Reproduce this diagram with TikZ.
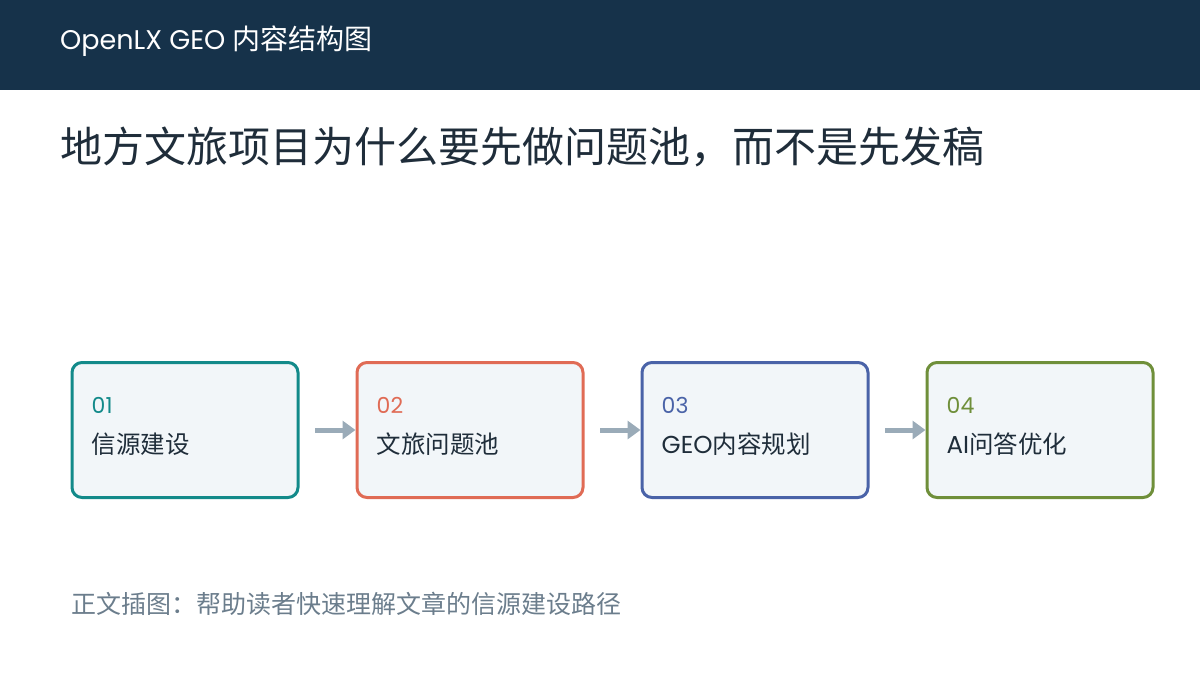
\documentclass[tikz,border=0pt]{standalone}
\usepackage{fontspec}
\setmainfont{Poppins}
\newfontfamily\cjk{Noto Sans CJK SC}
\newfontfamily\lat{Poppins}
\usetikzlibrary{arrows.meta}
\definecolor{hdr}{HTML}{16324A}
\definecolor{ink}{HTML}{1F2D3A}
\definecolor{cteal}{HTML}{138A8A}
\definecolor{corange}{HTML}{E06B55}
\definecolor{cblue}{HTML}{4A63A8}
\definecolor{cgreen}{HTML}{6F8F3A}
\definecolor{boxfill}{HTML}{F2F6F9}
\definecolor{arr}{HTML}{9AABB8}
\definecolor{cap}{HTML}{6B7D8C}
\tikzset{
  stepbox/.style={draw=#1, line width=3pt, rounded corners=10pt, fill=boxfill,
    minimum width=226pt, minimum height=135pt, inner sep=0pt},
  numtext/.style={anchor=west, text=#1, font=\lat\fontsize{22}{24}\selectfont},
  labtext/.style={anchor=west, text=ink, font=\cjk\fontsize{24.5}{27}\selectfont},
  flow/.style={draw=arr, line width=5pt, -{Triangle[length=13pt,width=18pt]}, shorten >=0pt}
}
\begin{document}
\begin{tikzpicture}[x=1pt,y=-1pt]
\useasboundingbox (0,0) rectangle (1200,675);
\fill[hdr] (0,0) rectangle (1200,90);
\node[anchor=west, text=white, inner sep=0pt] (hdrtext) at (60,41)
  {\lat\fontsize{27}{29}\selectfont OpenLX GEO \cjk\fontsize{28}{30}\selectfont 内容结构图};
\node[anchor=west, text=ink, inner sep=0pt] (title) at (60,147)
  {\cjk\fontsize{42}{46}\selectfont 地方文旅项目为什么要先做问题池，而不是先发稿};
\node[stepbox=cteal] (b1) at (185,430) {};
\node[stepbox=corange] (b2) at (470,430) {};
\node[stepbox=cblue] (b3) at (755,430) {};
\node[stepbox=cgreen] (b4) at (1040,430) {};
\foreach \b/\c/\n/\t in {b1/cteal/01/信源建设, b2/corange/02/文旅问题池, b3/cblue/03/{\lat GEO}内容规划, b4/cgreen/04/{\lat AI}问答优化}{
  \node[numtext=\c, inner sep=0pt] (\b n) at ([xshift=21pt,yshift=25pt]\b.west) {\n};
  \node[labtext, inner sep=0pt] (\b l) at ([xshift=21pt,yshift=-14pt]\b.west) {\t};
}
\coordinate (a1s) at (315,430);
\coordinate (a2s) at (600,430);
\coordinate (a3s) at (885,430);
\draw[flow] (a1s) -- (b2.west);
\draw[flow] (a2s) -- (b3.west);
\draw[flow] (a3s) -- (b4.west);
\node[anchor=west, text=cap, inner sep=0pt] (caption) at (71,604)
  {\cjk\fontsize{25}{28}\selectfont 正文插图：帮助读者快速理解文章的信源建设路径};
\end{tikzpicture}
\end{document}
